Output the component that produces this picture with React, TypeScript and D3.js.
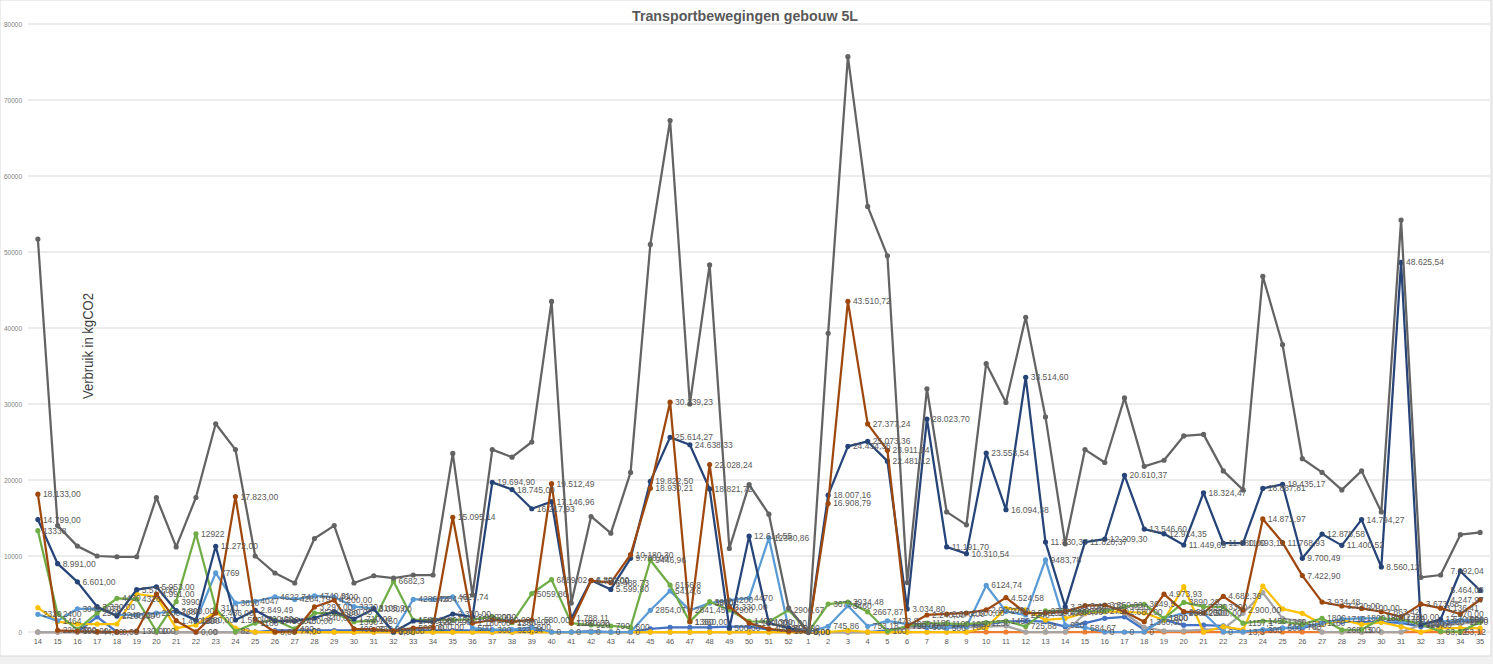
import React from 'react'
import * as d3 from 'd3'

// week numbers: 14..52 (year 1) then 1..35 (year 2)
const weeks = [
  '14', '15', '16', '17', '18', '19', '20', '21', '22', '23', '24', '25', '26', '27', '28', '29', '30', '31', '32', '33',
  '34', '35', '36', '37', '38', '39', '40', '41', '42', '43', '44', '45', '46', '47', '48', '49', '50', '51', '52',
  '1', '2', '3', '4', '5', '6', '7', '8', '9', '10', '11', '12', '13', '14', '15', '16', '17', '18', '19', '20',
  '21', '22', '23', '24', '25', '26', '27', '28', '29', '30', '31', '32', '33', '34', '35',
]

const yTicks = [0, 10000, 20000, 30000, 40000, 50000, 60000, 70000, 80000]

const totaal = [
  51700, 14000, 11300, 10000, 9900, 9900, 17700, 11200, 17700, 27400,
  24000, 10000, 7760, 6450, 12300, 14000, 6450, 7400, 7100, 7500,
  7500, 23500, 4870, 24000, 23000, 25000, 43500, 3800, 15200, 13000,
  21000, 51000, 67300, 30000, 48300, 11000, 19400, 15500, 3150,
  0, 39300, 75700, 56000, 49500, 6500, 32000, 15800, 14100, 35300,
  30200, 41400, 28300, 11600, 24000, 22300, 30800, 21800, 22600, 25800,
  26000, 21200, 18700, 46800, 37800, 22800, 21000, 18700, 21200, 15800,
  54200, 7200, 7500, 12800, 13100,
]

const donkerblauw = [
  14799, 8991, 6601, 3330, 2100, 5570, 5953, 2800, 1580, 11272,
  1580, 2849.49, 1450, 1450, 1840, 2680, 1710, 3030, 0, 1450,
  1320, 2370, 2000, 19694.9, 18745, 16217.93, 17146.96, 1788.11, 6800, 5599.8,
  9700, 19822.5, 25614.27, 24638.33, 18821.72, 500, 12614.55, 1180, 500,
  0, 18007.16, 24434.36, 25073.36, 22481.12, 3034.8, 28023.7, 11191.7, 10310.54, 23553.54,
  16094.38, 33514.6, 11830.37, 3300, 11820.37, 12209.3, 20610.37, 13546.6, 12914.35, 11449.65,
  18324.47, 11680, 11693.11, 18887.81, 19435.17, 9700.49, 12878.58, 11400.52, 14794.27, 8560.12,
  48625.54, 920, 1670, 7992.04, 5464.08,
]

const bruin = [
  18133, 220, 100, 44, 0, 130, 4991, 1490, 0, 2486,
  17823, 1700, 0, 74, 3297, 4200, 400, 330, 150, 500,
  600, 15095.14, 1180, 1580, 1360, 1580, 19512.49, 1180, 6750, 6488.73,
  10180.3, 18930.21, 30239.23, 1360, 22028.24, 3330, 1180, 400, 100,
  0, 16908.79, 43510.72, 27377.24, 23911.14, 790, 2240, 2370, 2500, 2900,
  4524.58, 2500, 2500, 2680, 3460, 3550, 2680, 1360, 4973.93, 2680,
  2500, 4682.36, 2900, 14871.97, 11768.93, 7422.9, 3934.48, 3420, 3100, 2663.42,
  2000, 3673.68, 3136.41, 2370, 4247.97,
]

const groen = [
  13338, 2400, 300, 2500, 4430, 4326, 100, 3990, 12922, 3141,
  82, 1180, 1580, 400, 2500, 2500, 1360, 1450, 6682.3, 1580,
  1580, 1580, 1650, 2000, 1230, 5059.86, 6889.02, 1180, 920, 790,
  600, 9446.96, 6156.8, 1360, 3990, 2900, 1400, 1360, 2906.67,
  0, 3673.5, 3934.48, 2667.87, 100, 790, 1180, 1100, 1050, 1230,
  1450, 725.88, 2770, 2800, 2700, 2750, 3330, 3649.5, 1800, 3890.29,
  3330, 3300, 1157.1, 1450, 1360, 1010, 1800, 268.15, 300, 1800,
  1700, 1010, 63.12, 63.12, 1270,
]

const lichtblauw = [
  2329, 1464, 3049, 3070, 2240, 2240, 2500, 2680, 1500, 7769,
  3810, 4047, 4622.74, 4284.79, 4740.31, 4600, 3330, 3105.9, 0, 4286.74,
  4284.79, 4627.74, 500, 300, 323.34, 600, 0, 0, 0, 0,
  0, 2854.07, 5414.6, 2841.45, 3800, 4200, 4470, 12380.86, 500,
  0, 745.86, 3460, 753.18, 1473.8, 1050, 600, 500, 700, 6124.74,
  2700, 2240, 9483.78, 920, 584.67, 0, 0, 0, 1800, 2500,
  2500, 0, 13.3, 300, 500, 700, 1180, 1710, 1800, 1800,
  1360, 1180, 1360, 1580, 1580,
]

const geel = [
  3200, 1360, 1050, 1050, 1050, 5000, 4650, 500, 920, 2680,
  500, 0, 0, 0, 0, 0, 0, 0, 0, 0,
  0, 0, 0, 0, 0, 0, 0, 0, 0, 0,
  0, 0, 0, 0, 0, 0, 0, 0, 0,
  0, 0, 200, 0, 0, 0, 0, 0, 0, 600,
  3100, 2900, 1580, 1800, 2500, 2680, 2680, 2500, 1580, 5960,
  0, 700, 300, 6050, 3030, 2460, 1010, 1580, 1010, 1270,
  700, 0, 500, 500, 500,
]

const lichtgrijs = [
  0, 0, 0, 0, 0, 0, 0, 0, 0, 0,
  0, 0, 0, 0, 0, 0, 0, 0, 0, 0,
  0, 0, 0, 0, 0, 0, 0, 0, 0, 0,
  0, 0, 0, 0, 0, 0, 0, 0, 0,
  0, 0, 0, 0, 0, 500, 600, 600, 600, 700,
  800, 0, 0, 0, 2400, 2700, 2500, 600, 150, 150,
  300, 400, 2460, 5170, 1800, 1360, 0, 0, 0, 0,
  0, 920, 800, 1100, 1300,
]

const blauw = [
  0, 0, 0, 2000, 0, 0, 0, 0, 0, 0,
  0, 0, 200, 200, 200, 200, 200, 200, 0, 200,
  200, 200, 200, 200, 200, 200, 0, 0, 100, 0,
  0, 400, 600, 600, 600, 700, 700, 300, 100,
  0, 0, 0, 0, 200, 600, 700, 800, 900, 1000,
  1360, 1450, 1360, 700, 1180, 1800, 2000, 300, 1580, 900,
  900, 800, 100, 100, 500, 500, 1180, 1360, 1300, 1300,
  1200, 700, 900, 1360, 1360,
]

const oranje = [
  0, 0, 0, 0, 0, 0, 0, 0, 0, 0,
  0, 0, 0, 0, 0, 0, 0, 0, 0, 0,
  0, 0, 0, 0, 0, 0, 0, 0, 0, 0,
  0, 0, 0, 0, 0, 0, 0, 0, 0,
  0, 0, 0, 0, 0, 0, 0, 0, 0, 0,
  0, 0, 0, 0, 0, 0, 0, 0, 0, 0,
  0, 0, 0, 0, 0, 0, 0, 0, 0, 0,
  0, 0, 0, 0, 0,
]

const nl = d3.formatLocale({ decimal: ',', thousands: '.', grouping: [3], currency: ['€', ''] })
const fmtNl = nl.format(',.2f')
const fmtGeneral = (v: number) => String(Math.round(v * 100) / 100).replace('.', ',')

// drawing order as in the workbook (last one on top)
const series = [
  { name: 'blauw', values: blauw, color: '#4472C4', label: null },
  { name: 'oranje', values: oranje, color: '#ED7D31', label: null },
  { name: 'lichtgrijs', values: lichtgrijs, color: '#A5A5A5', label: null },
  { name: 'geel', values: geel, color: '#FFC000', label: null },
  { name: 'lichtblauw', values: lichtblauw, color: '#5B9BD5', label: fmtGeneral },
  { name: 'groen', values: groen, color: '#70AD47', label: fmtGeneral },
  { name: 'donkerblauw', values: donkerblauw, color: '#264478', label: fmtNl },
  { name: 'bruin', values: bruin, color: '#9E480E', label: fmtNl },
  { name: 'totaal', values: totaal, color: '#636363', label: null },
]

const W = 1493
const H = 664
const RIGHT = 1490

const App = () => {
  const x = d3.scaleBand<number>()
    .domain(d3.range(weeks.length))
    .range([28, RIGHT])
  const cx = (i: number) => (x(i) as number) + x.bandwidth() / 2

  const y = d3.scaleLinear()
    .domain([0, 80000])
    .range([632, 24])

  const line = d3.line<number>()
    .x((_, i) => cx(i))
    .y(d => y(d))

  const font = '"Liberation Sans", Arial, sans-serif'
  const lblSize = 8.5

  return (
    <svg width={W} height={H}
      style={{ position: 'absolute', left: 0, top: 0, display: 'block', background: '#f0f0f0' }}>
      <rect x={0} y={0} width={1491} height={656} fill="#fff" stroke="#d9d9d9" />

      {/* gridlines and y labels */}
      {yTicks.map(t => (
        <g key={t}>
          <line x1={28} x2={RIGHT} y1={y(t)} y2={y(t)} stroke="#d9d9d9" strokeWidth={1} />
          <text x={22} y={y(t) + 2.5} textAnchor="end" fontSize={6.5} fill="#7f7f7f" fontFamily={font}>{t}</text>
        </g>
      ))}

      {/* x labels */}
      {weeks.map((w, i) => (
        <text key={i} x={cx(i)} y={644} textAnchor="middle" fontSize={7.5} fill="#595959" fontFamily={font}>{w}</text>
      ))}

      {/* lines and markers */}
      {series.map(s => (
        <g key={s.name}>
          <path d={line(s.values) || ''} fill="none" stroke={s.color} strokeWidth={2.25} strokeLinejoin="round" />
          {s.values.map((v, i) => (
            <circle key={i} cx={cx(i)} cy={y(v)} r={2.6} fill={s.color} />
          ))}
        </g>
      ))}

      {/* data labels, kept inside the chart area on the right */}
      {series.filter(s => s.label).map(s => (
        <g key={s.name + '-lbl'}>
          {s.values.map((v, i) => {
            const txt = s.label!(v)
            const wEst = txt.length * lblSize * 0.55
            const lx = Math.min(cx(i) + 5, RIGHT - 2 - wEst)
            return (
              <text key={i} x={lx} y={y(v) + 3} fontSize={lblSize} fill="#595959" fontFamily={font}>
                {txt}
              </text>
            )
          })}
        </g>
      ))}

      <text x={745} y={21} textAnchor="middle" fontSize={14} fontWeight={700} fill="#595959"
        fontFamily={font} textLength={226} lengthAdjust="spacingAndGlyphs">
        Transportbewegingen gebouw 5L
      </text>

      <text transform="translate(93, 346) rotate(-90)" textAnchor="middle" fontSize={15} fill="#404040"
        fontFamily={font} textLength={106} lengthAdjust="spacingAndGlyphs">
        Verbruik in kgCO2
      </text>
    </svg>
  )
}

export default App
